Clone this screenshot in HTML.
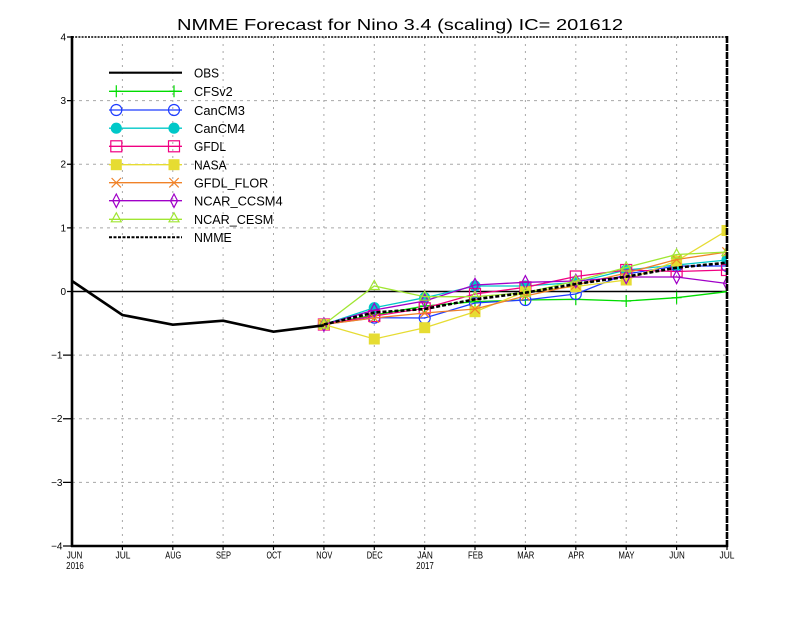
<!DOCTYPE html>
<html><head><meta charset="utf-8"><style>
html,body{margin:0;padding:0;background:#fff;}
svg{display:block;}
text{font-family:"Liberation Sans",sans-serif;fill:#000;}
</style></head><body>
<svg width="800" height="618" viewBox="0 0 800 618" xmlns="http://www.w3.org/2000/svg">
<defs>
<clipPath id="pa"><rect x="72" y="37" width="655" height="509"/></clipPath>
<marker id="mPlus" markerUnits="userSpaceOnUse" markerWidth="16" markerHeight="16" refX="8" refY="8" overflow="visible"><path d="M3,8H13M8,2V14" stroke="#00dc00" stroke-width="1.2" fill="none"/></marker>
<marker id="mCir" markerUnits="userSpaceOnUse" markerWidth="16" markerHeight="16" refX="8" refY="8" overflow="visible"><circle cx="8" cy="8" r="5.5" stroke="#1e3cff" stroke-width="1.2" fill="none"/></marker>
<marker id="mFCir" markerUnits="userSpaceOnUse" markerWidth="16" markerHeight="16" refX="8" refY="8" overflow="visible"><circle cx="8" cy="8" r="5.6" fill="#00c8c8"/></marker>
<marker id="mSq" markerUnits="userSpaceOnUse" markerWidth="16" markerHeight="16" refX="8" refY="8" overflow="visible"><rect x="2.5" y="2.5" width="11" height="11" stroke="#f00082" stroke-width="1.2" fill="none"/></marker>
<marker id="mFSq" markerUnits="userSpaceOnUse" markerWidth="16" markerHeight="16" refX="8" refY="8" overflow="visible"><rect x="2.5" y="2.5" width="11" height="11" fill="#e6dc32"/></marker>
<marker id="mX" markerUnits="userSpaceOnUse" markerWidth="16" markerHeight="16" refX="8" refY="8" overflow="visible"><path d="M3.3,3.3L12.7,12.7M12.7,3.3L3.3,12.7" stroke="#f08228" stroke-width="1.2" fill="none"/></marker>
<marker id="mDia" markerUnits="userSpaceOnUse" markerWidth="16" markerHeight="16" refX="8" refY="8" overflow="visible"><path d="M8,1.3L11.5,8L8,14.7L4.5,8Z" stroke="#a000c8" stroke-width="1.2" fill="none"/></marker>
<marker id="mTri" markerUnits="userSpaceOnUse" markerWidth="16" markerHeight="16" refX="8" refY="8" overflow="visible"><path d="M8,2.5L13,11.5L3,11.5Z" stroke="#a0e632" stroke-width="1.2" fill="none"/></marker>
</defs>
<rect width="800" height="618" fill="#fff"/>

<!-- title -->
<text x="177" y="30" font-size="16" textLength="446" lengthAdjust="spacingAndGlyphs">NMME Forecast for Nino 3.4 (scaling) IC= 201612</text>

<!-- grid -->
<g stroke="#a8a8a8" stroke-width="1" stroke-dasharray="2,5" fill="none">
<path d="M122.4,37V546M172.8,37V546M223.1,37V546M273.5,37V546M323.9,37V546M374.3,37V546M424.7,37V546M475,37V546M525.4,37V546M575.8,37V546M626.2,37V546M676.6,37V546"/>
</g>
<g stroke="#a8a8a8" stroke-width="1" stroke-dasharray="3,4" fill="none">
<path d="M72,100.6H727M72,164.25H727M72,227.9H727M72,355.1H727M72,418.75H727M72,482.4H727"/>
</g>

<!-- zero line -->
<path d="M72,291.5H727" stroke="#000" stroke-width="1.4"/>

<!-- series -->
<g clip-path="url(#pa)" fill="none" stroke-width="1.3">
<polyline stroke="#00dc00" marker-start="url(#mPlus)" marker-mid="url(#mPlus)" marker-end="url(#mPlus)" points="323.9,324.5 374.3,315 424.7,306 475,301.7 525.4,300 575.8,299.3 626.2,301 676.6,297.7 727,291.7"/>
<polyline stroke="#1e3cff" marker-start="url(#mCir)" marker-mid="url(#mCir)" marker-end="url(#mCir)" points="323.9,324.5 374.3,317.7 424.7,318 475,303 525.4,300 575.8,294 626.2,274 676.6,266 727,266"/>
<polyline stroke="#00c8c8" marker-start="url(#mFCir)" marker-mid="url(#mFCir)" marker-end="url(#mFCir)" points="323.9,324.5 374.3,307.7 424.7,297.7 475,286 525.4,286 575.8,282.5 626.2,270 676.6,265 727,260"/>
<polyline stroke="#f00082" marker-start="url(#mSq)" marker-mid="url(#mSq)" marker-end="url(#mSq)" points="323.9,324.5 374.3,316 424.7,308.3 475,294 525.4,287.3 575.8,276.5 626.2,270 676.6,271.5 727,270"/>
<polyline stroke="#e6dc32" marker-start="url(#mFSq)" marker-mid="url(#mFSq)" marker-end="url(#mFSq)" points="323.9,324.5 374.3,339 424.7,327.7 475,311.7 525.4,291.7 575.8,286.5 626.2,280 676.6,261 727,230.5"/>
<polyline stroke="#f08228" marker-start="url(#mX)" marker-mid="url(#mX)" marker-end="url(#mX)" points="323.9,324.5 374.3,318 424.7,313 475,309 525.4,296 575.8,285 626.2,273 676.6,259.5 727,252"/>
<polyline stroke="#a000c8" marker-start="url(#mDia)" marker-mid="url(#mDia)" marker-end="url(#mDia)" points="323.9,324.5 374.3,310 424.7,301 475,285 525.4,282.3 575.8,281 626.2,277 676.6,277 727,283.5"/>
<polyline stroke="#a0e632" marker-start="url(#mTri)" marker-mid="url(#mTri)" marker-end="url(#mTri)" points="323.9,324.5 374.3,286 424.7,296.7 475,296.7 525.4,292.7 575.8,281 626.2,267.5 676.6,254.5 727,252"/>
<polyline stroke="#000" stroke-width="2.6" stroke-dasharray="4,2" points="323.9,324.5 374.3,312.5 424.7,309 475,299.3 525.4,292.7 575.8,284 626.2,276.7 676.6,267.7 727,262.7"/>
<polyline stroke="#000" stroke-width="2.6" points="72,281 122.4,315 172.8,324.7 223.1,320.7 273.5,331.7 323.9,325.3"/>
</g>

<!-- frame -->
<path d="M72,37H727" stroke="#000" stroke-width="1.5" stroke-dasharray="2,1.2"/>
<path d="M727,36V547" stroke="#000" stroke-width="2.6" stroke-dasharray="7,1"/>
<path d="M72,36V547" stroke="#000" stroke-width="2.6"/>
<path d="M71,546H728" stroke="#000" stroke-width="2.6"/>

<!-- y ticks -->
<g stroke="#000" stroke-width="1.2">
<path d="M67,37H72M67,100.6H72M67,164.25H72M67,227.9H72M67,291.5H72M63,355.1H72M63,418.75H72M63,482.4H72M63,546H72"/>
</g>
<!-- x ticks -->
<g stroke="#000" stroke-width="1.2">
<path d="M122.4,546V550M172.8,546V550M223.1,546V550M273.5,546V550M323.9,546V550M374.3,546V550M424.7,546V550M475,546V550M525.4,546V550M575.8,546V550M626.2,546V550M676.6,546V550M727,546V550"/>
</g>

<!-- y labels -->
<g font-size="10">
<text x="66" y="40.5" text-anchor="end">4</text>
<text x="66" y="104" text-anchor="end">3</text>
<text x="66" y="167.7" text-anchor="end">2</text>
<text x="66" y="231.3" text-anchor="end">1</text>
<text x="66" y="295" text-anchor="end">0</text>
<text x="62.5" y="358.5" text-anchor="end">−1</text>
<text x="62.5" y="422.2" text-anchor="end">−2</text>
<text x="62.5" y="485.8" text-anchor="end">−3</text>
<text x="62.5" y="549.5" text-anchor="end">−4</text>
</g>

<!-- x labels -->
<g font-size="10" text-anchor="middle">
<text x="74.5" y="558.3" textLength="15.6" lengthAdjust="spacingAndGlyphs">JUN</text>
<text x="75" y="569" textLength="17.7" lengthAdjust="spacingAndGlyphs">2016</text>
<text x="123" y="558.3" textLength="15" lengthAdjust="spacingAndGlyphs">JUL</text>
<text x="173.3" y="558.3" textLength="16" lengthAdjust="spacingAndGlyphs">AUG</text>
<text x="223.5" y="558.3" textLength="15" lengthAdjust="spacingAndGlyphs">SEP</text>
<text x="274" y="558.3" textLength="15" lengthAdjust="spacingAndGlyphs">OCT</text>
<text x="324.3" y="558.3" textLength="16" lengthAdjust="spacingAndGlyphs">NOV</text>
<text x="374.7" y="558.3" textLength="16" lengthAdjust="spacingAndGlyphs">DEC</text>
<text x="425" y="558.3" textLength="15.6" lengthAdjust="spacingAndGlyphs">JAN</text>
<text x="425" y="569" textLength="17.7" lengthAdjust="spacingAndGlyphs">2017</text>
<text x="475.5" y="558.3" textLength="15" lengthAdjust="spacingAndGlyphs">FEB</text>
<text x="525.8" y="558.3" textLength="17" lengthAdjust="spacingAndGlyphs">MAR</text>
<text x="576.2" y="558.3" textLength="16" lengthAdjust="spacingAndGlyphs">APR</text>
<text x="626.5" y="558.3" textLength="16" lengthAdjust="spacingAndGlyphs">MAY</text>
<text x="677" y="558.3" textLength="15.6" lengthAdjust="spacingAndGlyphs">JUN</text>
<text x="727" y="558.3" textLength="15" lengthAdjust="spacingAndGlyphs">JUL</text>
</g>

<!-- legend -->
<g fill="none">
<path d="M109,72.7H182" stroke="#000" stroke-width="2.2"/>
<path d="M109,91.3H182" stroke="#00dc00" stroke-width="1.3"/>
<path d="M116.3,91.3H174" stroke="none" marker-start="url(#mPlus)" marker-end="url(#mPlus)"/>
<path d="M109,110H182" stroke="#1e3cff" stroke-width="1.3"/>
<path d="M116.3,110H174" stroke="none" marker-start="url(#mCir)" marker-end="url(#mCir)"/>
<path d="M109,128.2H182" stroke="#00c8c8" stroke-width="1.3"/>
<path d="M116.3,128.2H174" stroke="none" marker-start="url(#mFCir)" marker-end="url(#mFCir)"/>
<path d="M109,146.3H182" stroke="#f00082" stroke-width="1.3"/>
<path d="M116.3,146.3H174" stroke="none" marker-start="url(#mSq)" marker-end="url(#mSq)"/>
<path d="M109,164.7H182" stroke="#e6dc32" stroke-width="1.3"/>
<path d="M116.3,164.7H174" stroke="none" marker-start="url(#mFSq)" marker-end="url(#mFSq)"/>
<path d="M109,182.7H182" stroke="#f08228" stroke-width="1.3"/>
<path d="M116.3,182.7H174" stroke="none" marker-start="url(#mX)" marker-end="url(#mX)"/>
<path d="M109,200.7H182" stroke="#a000c8" stroke-width="1.3"/>
<path d="M116.3,200.7H174" stroke="none" marker-start="url(#mDia)" marker-end="url(#mDia)"/>
<path d="M109,219.3H182" stroke="#a0e632" stroke-width="1.3"/>
<path d="M116.3,218.3H174" stroke="none" marker-start="url(#mTri)" marker-end="url(#mTri)"/>
<path d="M109,237.3H182" stroke="#000" stroke-width="2" stroke-dasharray="3,1.5"/>
</g>
<g font-size="13">
<text x="194" y="77.5" textLength="25" lengthAdjust="spacingAndGlyphs">OBS</text>
<text x="194" y="96.1" textLength="38.7" lengthAdjust="spacingAndGlyphs">CFSv2</text>
<text x="194" y="114.8" textLength="51" lengthAdjust="spacingAndGlyphs">CanCM3</text>
<text x="194" y="133" textLength="51" lengthAdjust="spacingAndGlyphs">CanCM4</text>
<text x="194" y="151.1" textLength="32" lengthAdjust="spacingAndGlyphs">GFDL</text>
<text x="194" y="169.5" textLength="32.7" lengthAdjust="spacingAndGlyphs">NASA</text>
<text x="194" y="187.5" textLength="74.3" lengthAdjust="spacingAndGlyphs">GFDL_FLOR</text>
<text x="194" y="205.5" textLength="88.7" lengthAdjust="spacingAndGlyphs">NCAR_CCSM4</text>
<text x="194" y="224.1" textLength="79.3" lengthAdjust="spacingAndGlyphs">NCAR_CESM</text>
<text x="194" y="242.1" textLength="37.7" lengthAdjust="spacingAndGlyphs">NMME</text>
</g>
</svg>
</body></html>
